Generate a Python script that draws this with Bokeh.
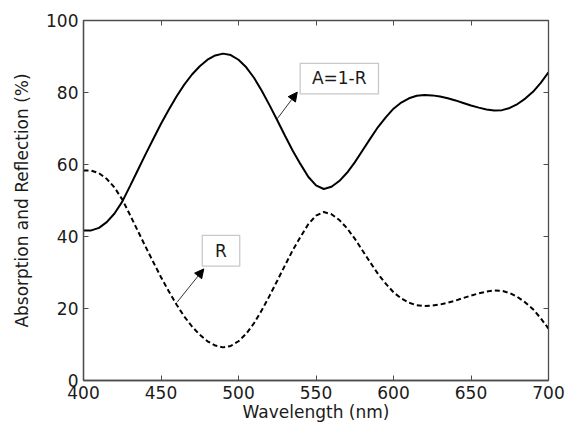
from bokeh.plotting import figure
from bokeh.models import (LinearAxis, Range1d, Arrow, NormalHead, FixedTicker, Label,
                          BoxAnnotation, CustomLabelingPolicy)
from bokeh.embed import file_html
from bokeh.resources import INLINE

wavelength = [400, 405, 410, 415, 420, 425, 430, 435, 440, 445, 450, 455, 460, 465, 470,
              475, 480, 485, 490, 495, 500, 505, 510, 515, 520, 525, 530, 535, 540, 545,
              550, 555, 560, 565, 570, 575, 580, 585, 590, 595, 600, 605, 610, 615, 620,
              625, 630, 635, 640, 645, 650, 655, 660, 665, 670, 675, 680, 685, 690, 695, 700]
reflection = [58.3, 58.3, 57.6, 56.0, 53.6, 50.3, 46.0, 41.6, 37.2, 32.9, 28.7, 24.8, 21.1, 17.8, 15.0,
              12.7, 10.9, 9.7, 9.2, 9.6, 10.9, 13.0, 15.9, 19.5, 23.5, 27.7, 32.0, 36.2, 39.9, 43.4,
              45.8, 46.8, 46.2, 44.6, 42.3, 39.4, 36.1, 32.8, 29.6, 26.9, 24.5, 22.8, 21.6, 20.9, 20.7,
              20.8, 21.1, 21.6, 22.2, 22.9, 23.6, 24.2, 24.7, 25.0, 24.9, 24.3, 23.2, 21.7, 19.8, 17.3, 14.4]
absorption = [41.7, 41.7, 42.4, 44.0, 46.4, 49.7, 54.0, 58.4, 62.8, 67.1, 71.3, 75.2, 78.9, 82.2, 85.0,
              87.3, 89.1, 90.3, 90.8, 90.4, 89.1, 87.0, 84.1, 80.5, 76.5, 72.3, 68.0, 63.8, 60.1, 56.6,
              54.2, 53.2, 53.8, 55.4, 57.7, 60.6, 63.9, 67.2, 70.4, 73.1, 75.5, 77.2, 78.4, 79.1, 79.3,
              79.2, 78.9, 78.4, 77.8, 77.1, 76.4, 75.8, 75.3, 75.0, 75.1, 75.7, 76.8, 78.3, 80.2, 82.7, 85.6]
x_ticks = [400, 450, 500, 550, 600, 650, 700]
y_ticks = [0, 20, 40, 60, 80, 100]

FONT = "DejaVu Sans"
FS = "17px"
FRAME = "#4d4d4d"

p = figure(frame_width=465, frame_height=360, x_range=Range1d(400, 700), y_range=Range1d(0, 100),
           output_backend="svg", toolbar_location=None,
           min_border_left=83, min_border_right=25, min_border_top=20, min_border_bottom=30)
p.xgrid.visible = False
p.ygrid.visible = False
p.outline_line_color = FRAME
p.outline_line_width = 1.3
p.background_fill_color = "white"
p.border_fill_color = "white"

for ax, ticks in ((p.xaxis[0], x_ticks), (p.yaxis[0], y_ticks)):
    ax.ticker = FixedTicker(ticks=ticks)
    ax.major_tick_in = 5
    ax.major_tick_out = 0
    ax.minor_tick_in = 0
    ax.minor_tick_out = 0
    ax.axis_line_color = FRAME
    ax.axis_line_width = 1.3
    ax.major_tick_line_color = FRAME
    ax.major_label_text_font = FONT
    ax.major_label_text_font_size = FS
    ax.major_label_text_color = "#1a1a1a"
    ax.axis_label_text_font = FONT
    ax.axis_label_text_font_size = FS
    ax.axis_label_text_font_style = "normal"
    ax.axis_label_text_color = "#1a1a1a"
    ax.major_label_standoff = 5

p.xaxis.axis_label = "Wavelength (nm)"
p.xaxis.axis_label_standoff = 0
p.yaxis.axis_label = "Absorption and Reflection (%)"
p.yaxis.axis_label_standoff = 11

hide_all = "for (const i of indices) indices.unset(i)"
top = LinearAxis(ticker=FixedTicker(ticks=x_ticks), major_label_policy=CustomLabelingPolicy(code=hide_all),
                 major_tick_in=5, major_tick_out=0, minor_tick_in=0, minor_tick_out=0,
                 major_label_standoff=0, axis_line_color=FRAME, major_tick_line_color=FRAME)
right = LinearAxis(ticker=FixedTicker(ticks=y_ticks), major_label_policy=CustomLabelingPolicy(code=hide_all),
                   major_tick_in=5, major_tick_out=0, minor_tick_in=0, minor_tick_out=0,
                   major_label_standoff=0, axis_line_color=FRAME, major_tick_line_color=FRAME)
p.add_layout(top, "above")
p.add_layout(right, "right")

p.line(wavelength, absorption, line_color="black", line_width=2)
p.line(wavelength, reflection, line_color="black", line_width=2, line_dash="5 3")

# annotation boxes
p.add_layout(BoxAnnotation(left=539.8, right=590.3, bottom=79.6, top=88.1, fill_color="white",
                           fill_alpha=1, line_color=FRAME, line_width=1.3))
p.add_layout(Label(x=565.0, y=83.9, text="A=1-R", text_align="center", text_baseline="middle",
                   text_font=FONT, text_font_size=FS, text_color="#1a1a1a"))
p.add_layout(BoxAnnotation(left=476.6, right=500.8, bottom=31.75, top=40.3, fill_color="white",
                           fill_alpha=1, line_color=FRAME, line_width=1.3))
p.add_layout(Label(x=488.7, y=36.0, text="R", text_align="center", text_baseline="middle",
                   text_font=FONT, text_font_size=FS, text_color="#1a1a1a"))

p.add_layout(Arrow(end=NormalHead(size=9, fill_color="black", line_color="black"),
                   x_start=525.0, y_start=72.7, x_end=537.9, y_end=80.1,
                   line_color="#333333", line_width=1))
p.add_layout(Arrow(end=NormalHead(size=9, fill_color="black", line_color="black"),
                   x_start=460.4, y_start=21.75, x_end=477.6, y_end=31.0,
                   line_color="#333333", line_width=1))

open("out.html", "w").write(file_html(p, INLINE))
